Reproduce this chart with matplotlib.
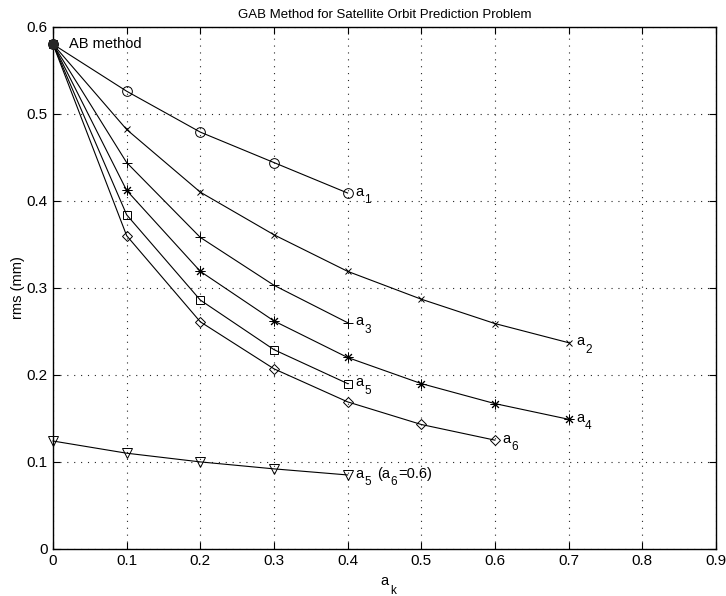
import matplotlib
matplotlib.use('Agg')
import matplotlib.pyplot as plt

plt.rcParams['font.family'] = ['Liberation Sans', 'DejaVu Sans']

# data
ak = [0.0, 0.1, 0.2, 0.3, 0.4, 0.5, 0.6, 0.7]
rms_a1 = [0.58, 0.526, 0.479, 0.444, 0.409]
rms_a2 = [0.58, 0.482, 0.410, 0.361, 0.319, 0.287, 0.259, 0.237]
rms_a3 = [0.58, 0.444, 0.358, 0.303, 0.260]
rms_a4 = [0.58, 0.412, 0.319, 0.262, 0.220, 0.190, 0.167, 0.149]
rms_a5 = [0.58, 0.384, 0.286, 0.229, 0.190]
rms_a6 = [0.58, 0.360, 0.261, 0.207, 0.169, 0.143, 0.125]
rms_a5_fix = [0.124, 0.110, 0.100, 0.092, 0.085]

subs = ['1', '2', '3', '4', '5', '6', '5']
series = [rms_a1, rms_a2, rms_a3, rms_a4, rms_a5, rms_a6, rms_a5_fix]
markers = ['o', 'x', '+', (8, 2, 0), 's', 'D', 'v']
sizes = [7, 5, 7, 7, 5.5, 5.5, 7.5]

FS = 10.5   # main text size
SFS = 8.5   # subscript size


def sub_label(ax, xy, parts, x0=5.5):
    # parts: list of (text, is_subscript, width in points)
    xo = x0
    for txt, is_sub, w in parts:
        if is_sub:
            ax.annotate(txt, xy, xytext=(xo, -5), textcoords='offset points',
                        va='center', ha='left', fontsize=SFS)
        else:
            ax.annotate(txt, xy, xytext=(xo, 1), textcoords='offset points',
                        va='center', ha='left', fontsize=FS)
        xo += w


fig = plt.figure(figsize=(7.26, 5.96), dpi=100)
ax = fig.add_axes([0.073, 0.079, 0.913, 0.876])

for y, s, m, ms in zip(series, subs, markers, sizes):
    x = ak[:len(y)]
    ax.plot(x, y, '-', color='k', lw=0.8, marker=m, ms=ms,
            mfc='none', mec='k', mew=0.7, clip_on=False, zorder=3)

aw = 0.556 * FS + 0.6
for y, s in zip(series[:-1], subs[:-1]):
    sub_label(ax, (ak[len(y) - 1], y[-1]), [('a', False, aw), (s, True, 0)])

# last label: a5 (a6=0.6)
sub_label(ax, (ak[len(rms_a5_fix) - 1], rms_a5_fix[-1]),
          [('a', False, aw), ('5', True, 0.556 * SFS + 4.5),
           ('(a', False, (0.333 + 0.556) * FS + 0.6), ('6', True, 0.556 * SFS + 0.3),
           ('=0.6)', False, 0)])

# AB method starting point
ax.plot(ak[0], rms_a1[0], 'o', color='0.15', ms=6.5, clip_on=False, zorder=4)
ax.text(0.022, 0.58, 'AB method', va='center', ha='left', fontsize=FS)

ax.set_xlim(0, 0.9)
ax.set_ylim(0, 0.6)
ax.set_xticks([0, 0.1, 0.2, 0.3, 0.4, 0.5, 0.6, 0.7, 0.8, 0.9])
ax.set_xticklabels(['0', '0.1', '0.2', '0.3', '0.4', '0.5', '0.6', '0.7', '0.8', '0.9'])
ax.set_yticks([0, 0.1, 0.2, 0.3, 0.4, 0.5, 0.6])
ax.set_yticklabels(['0', '0.1', '0.2', '0.3', '0.4', '0.5', '0.6'])
ax.tick_params(direction='in', top=True, right=True, length=5, labelsize=11, width=0.8, pad=4)
ax.grid(True, linestyle=(0, (1, 5.2)), color='0.15', lw=0.8)
for sp in ax.spines.values():
    sp.set_linewidth(1.0)

ax.set_title('GAB Method for Satellite Orbit Prediction Problem', fontsize=9.5, pad=6)
ax.set_xlabel('a', fontsize=FS, labelpad=4)
ax.annotate('k', (0.5, 0), xycoords=ax.xaxis.label, xytext=(4.5, -2.5),
            textcoords='offset points', va='center', ha='left', fontsize=SFS)
ax.set_ylabel('rms (mm)', fontsize=FS, labelpad=1)

fig.savefig('out.png', dpi=100)
